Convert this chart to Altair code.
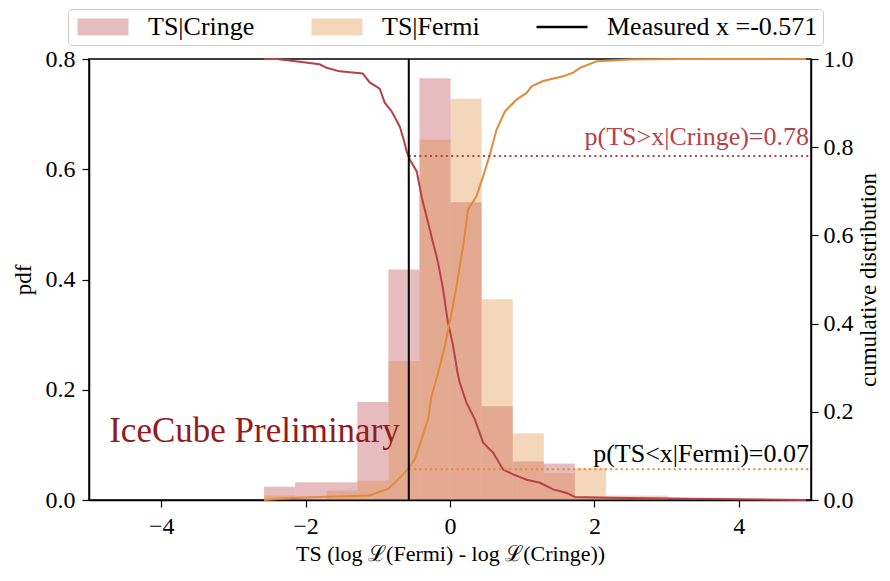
import altair as alt
import pandas as pd

# ---------------- data ----------------
bin_edges = [-2.575, -2.1445, -1.714, -1.2835, -0.853, -0.4225, 0.008, 0.4385,
             0.869, 1.2995, 1.730, 2.1605, 2.591, 3.0215, 3.452]
cringe_pdf = [0.024, 0.032, 0.032, 0.178, 0.418, 0.765, 0.540, 0.170,
              0.070, 0.066, 0.004, 0.003, 0.003, 0.002]
fermi_pdf = [0.008, 0.002, 0.017, 0.035, 0.252, 0.654, 0.728, 0.364,
             0.121, 0.049, 0.058, 0.008, 0.008, 0.0]

cringe_sf_x = [-2.575, -2.402, -2.083, -1.806, -1.709, -1.528, -1.209, -1.112, -0.974,
               -0.904, -0.807, -0.696, -0.641, -0.599, -0.558, -0.460, -0.391, -0.308,
               -0.239, -0.169, -0.100, -0.031, 0.039, 0.108, 0.136, 0.229, 0.344, 0.459,
               0.598, 0.736, 0.875, 1.061, 1.245, 1.430, 1.616, 1.731, 2.216, 3.325, 4.93]
cringe_sf_y = [1.0, 1.0, 0.994, 0.988, 0.980, 0.972, 0.967, 0.947, 0.933,
               0.901, 0.881, 0.847, 0.817, 0.790, 0.772, 0.745, 0.686, 0.632,
               0.586, 0.541, 0.482, 0.405, 0.353, 0.285, 0.266, 0.220, 0.183, 0.130,
               0.107, 0.069, 0.058, 0.046, 0.039, 0.024, 0.016, 0.007, 0.005, 0.003, 0.0]

fermi_cdf_x = [-2.575, -2.125, -1.112, -0.950, -0.859, -0.766, -0.650, -0.581, -0.488,
               -0.395, -0.304, -0.257, -0.165, -0.072, 0.021, 0.090, 0.182, 0.251, 0.368,
               0.459, 0.552, 0.645, 0.760, 0.922, 1.061, 1.130, 1.291, 1.569, 1.707,
               1.800, 2.032, 2.494, 3.187, 4.93]
fermi_cdf_y = [0.0, 0.005, 0.010, 0.020, 0.025, 0.039, 0.058, 0.071, 0.092,
               0.137, 0.183, 0.235, 0.288, 0.349, 0.424, 0.485, 0.576, 0.659, 0.689,
               0.734, 0.783, 0.840, 0.881, 0.908, 0.923, 0.938, 0.950, 0.961, 0.969,
               0.980, 0.995, 0.999, 1.0, 1.0]

measured_x = -0.571
p_cringe = 0.78
p_fermi = 0.07
x_right_end = 5.0

series_names = ["Cringe", "Fermi"]
legend_labels = ["TS|Cringe", "TS|Fermi", "Measured x =-0.571"]
annot_texts = ["p(TS>x|Cringe)=0.78", "p(TS<x|Fermi)=0.07"]
brand_text = ["IceCube Preliminary"]
brand_pos = [-4.72, 0.106]
x_ticks = [-4, -2, 0, 2, 4]
y_left_ticks = [0.0, 0.2, 0.4, 0.6, 0.8]
y_right_ticks = [0.0, 0.2, 0.4, 0.6, 0.8, 1.0]

# ---------------- styling ----------------
RED = "#b8404a"
ORANGE = "#e08a3a"
FONT = "Liberation Serif"
W, H = 722, 441

# ---------------- tables ----------------
rows = []
for name, vals in zip(series_names, [cringe_pdf, fermi_pdf]):
    for i, h in enumerate(vals):
        rows.append({"series": name, "x0": bin_edges[i], "x1": bin_edges[i + 1], "h": h, "base": 0.0})
bars_df = pd.DataFrame(rows)

crows = []
for name, xs, ys in [("Cringe", cringe_sf_x, cringe_sf_y), ("Fermi", fermi_cdf_x, fermi_cdf_y)]:
    for i, (xv, yv) in enumerate(zip(xs, ys)):
        crows.append({"series": name, "i": i, "x": xv, "y": yv})
cdf_df = pd.DataFrame(crows)

dots_df = pd.DataFrame({"series": series_names, "x0": [measured_x, measured_x],
                        "x1": [x_right_end, x_right_end], "p": [p_cringe, p_fermi]})

x_scale = alt.Scale(domain=[-5, 5], nice=False, zero=False)
yl_scale = alt.Scale(domain=[0, 0.8], nice=False, zero=True)
yr_scale = alt.Scale(domain=[0, 1], nice=False, zero=True)
stroke_scale = alt.Scale(domain=series_names, range=[RED, ORANGE])

x_axis = alt.Axis(values=x_ticks, format="d", title="TS (log ℒ(Fermi) - log ℒ(Cringe))",
                  titlePadding=5, labelPadding=7, titleFontSize=22)

# ---------------- left layer: histograms ----------------
bars = alt.Chart(bars_df).mark_rect(opacity=0.35).encode(
    x=alt.X("x0:Q", scale=x_scale, axis=x_axis),
    x2="x1:Q",
    y=alt.Y("h:Q", scale=yl_scale,
            axis=alt.Axis(values=y_left_ticks, format=".1f", title="pdf", orient="left",
                          titlePadding=10, labelPadding=7)),
    y2="base:Q",
    fill=alt.Fill("series:N", scale=alt.Scale(domain=series_names, range=[RED, ORANGE]), legend=None),
)

brand = alt.Chart(pd.DataFrame({"t": brand_text, "x": [brand_pos[0]], "y": [brand_pos[1]]})).mark_text(
    align="left", baseline="alphabetic", font=FONT, fontSize=35, color="#951a1a"
).encode(x=alt.X("x:Q", scale=x_scale), y=alt.Y("y:Q", scale=yl_scale), text="t:N")

RECT = "M-1,-1L5,-1L5,1L-1,1Z"
LINE = "M-1,-0.15L5,-0.15L5,0.15L-1,0.15Z"
leg = dict(title=None, orient="none", legendX=-21, legendY=-50,
           direction="horizontal", columns=3,
           labelFont=FONT, labelFontSize=26, labelColor="black",
           symbolSize=289, symbolStrokeWidth=0, symbolOpacity=1,
           strokeColor="#cccccc", fillColor="white", cornerRadius=4,
           padding=5, columnPadding=52, labelOffset=49, labelLimit=400)

legend_dummy = alt.Chart(pd.DataFrame({"entry": legend_labels})).mark_point(
    filled=True, opacity=0
).encode(
    color=alt.Color("entry:N",
                    scale=alt.Scale(domain=legend_labels, range=["#e5bcc0", "#f4d6ba", "#000000"]),
                    legend=alt.Legend(**leg)),
    shape=alt.Shape("entry:N",
                    scale=alt.Scale(domain=legend_labels, range=[RECT, RECT, LINE]),
                    legend=alt.Legend(**leg)),
)

left = alt.layer(bars, brand, legend_dummy)

# ---------------- right layer: cumulative curves ----------------
lines = alt.Chart(cdf_df).mark_line(strokeWidth=2).encode(
    x=alt.X("x:Q", scale=x_scale),
    y=alt.Y("y:Q", scale=yr_scale,
            axis=alt.Axis(values=y_right_ticks, format=".1f", orient="right",
                          title="cumulative distribution", titleAngle=270,
                          titleX=64, titleY=H / 2, titleAlign="center",
                          titleBaseline="alphabetic", labelPadding=5)),
    stroke=alt.Stroke("series:N", scale=stroke_scale, legend=None),
    detail="series:N",
    order="i:Q",
)

dots = alt.Chart(dots_df).mark_rule(strokeDash=[2, 3.3], strokeWidth=2).encode(
    x=alt.X("x0:Q", scale=x_scale), x2="x1:Q",
    y=alt.Y("p:Q", scale=yr_scale),
    stroke=alt.Stroke("series:N", scale=stroke_scale, legend=None),
)

vline = alt.Chart(pd.DataFrame({"m": [measured_x]})).mark_rule(color="black", strokeWidth=2).encode(
    x=alt.X("m:Q", scale=x_scale)
)

txt_c = alt.Chart(pd.DataFrame({"t": [annot_texts[0]], "x": [x_right_end], "y": [p_cringe]})).mark_text(
    align="right", baseline="alphabetic", font=FONT, fontSize=26, color=RED, dy=-11, dx=-2
).encode(x=alt.X("x:Q", scale=x_scale), y=alt.Y("y:Q", scale=yr_scale), text="t:N")

txt_f = alt.Chart(pd.DataFrame({"t": [annot_texts[1]], "x": [x_right_end], "y": [p_fermi]})).mark_text(
    align="right", baseline="alphabetic", font=FONT, fontSize=26, color="black", dy=-7, dx=-2
).encode(x=alt.X("x:Q", scale=x_scale), y=alt.Y("y:Q", scale=yr_scale), text="t:N")

right = alt.layer(lines, dots, vline, txt_c, txt_f)

chart = alt.layer(left, right).resolve_scale(y="independent").properties(
    width=W, height=H,
    autosize=alt.AutoSizeParams(type="none"),
    padding={"left": 81, "top": 51, "right": 71, "bottom": 70},
).configure_view(
    stroke="black", strokeWidth=1.5
).configure_axis(
    grid=False, domainColor="black", domainWidth=1.5, tickColor="black", tickWidth=1.2,
    tickSize=7, labelFont=FONT, labelFontSize=24, labelColor="black",
    titleFont=FONT, titleFontSize=23, titleFontWeight="normal", titleColor="black",
)

chart.save("out.html", embed_options={"renderer": "svg", "actions": False})
